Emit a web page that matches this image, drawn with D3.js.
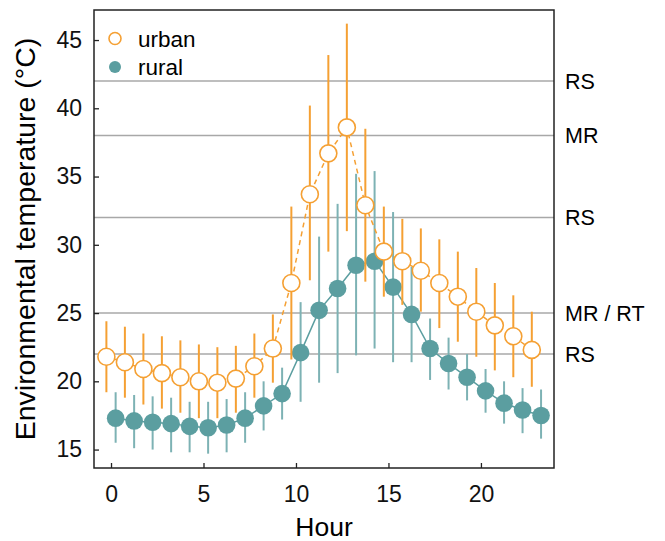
<!DOCTYPE html>
<meta charset='utf-8'>
<body style='margin:0'>
<script src='https://d3js.org/d3.v7.min.js'></script>
<script>
  // hourly means with error bars
  const hours = d3.range(0, 24);
  const urbanMean = [21.8, 21.4, 20.9, 20.6, 20.3, 20.0, 19.9, 20.2, 21.1, 22.4, 27.2, 33.7,
                     36.7, 38.6, 32.9, 29.5, 28.8, 28.1, 27.2, 26.2, 25.1, 24.1, 23.3, 22.3];
  const urbanHi = [24.4, 24.0, 23.5, 23.3, 23.0, 22.7, 22.5, 22.6, 23.5, 24.9, 32.8, 40.2,
                   43.9, 46.2, 38.5, 32.8, 31.9, 31.2, 30.4, 29.5, 28.3, 27.2, 26.3, 25.1];
  const urbanLo = [19.2, 18.8, 18.3, 18.0, 17.7, 17.3, 17.3, 17.7, 18.8, 19.9, 21.6, 27.4,
                   29.5, 31.0, 27.3, 26.2, 25.6, 25.1, 23.9, 22.9, 21.8, 20.8, 20.3, 19.6];
  const ruralMean = [17.3, 17.1, 17.0, 16.9, 16.7, 16.6, 16.8, 17.3, 18.2, 19.1, 22.1, 25.2,
                     26.8, 28.5, 28.8, 26.9, 24.9, 22.4, 21.3, 20.3, 19.3, 18.4, 17.9, 17.5];
  const ruralHi = [19.2, 19.0, 18.9, 18.8, 18.5, 18.5, 18.7, 19.2, 20.0, 21.0, 25.8, 30.6,
                   33.0, 35.2, 35.4, 32.4, 28.4, 24.6, 23.2, 22.0, 20.9, 20.0, 19.5, 19.4];
  const ruralLo = [15.5, 15.1, 15.0, 14.8, 14.8, 14.7, 14.8, 15.5, 16.4, 17.2, 18.5, 19.9,
                   20.6, 21.9, 22.4, 21.4, 21.4, 20.1, 19.4, 18.6, 17.7, 16.9, 16.2, 15.8];
  const refValues = [42, 38, 32, 25, 22];
  const refLabels = ['RS', 'MR', 'RS', 'MR / RT', 'RS'];
  const xTicks = [0, 5, 10, 15, 20];
  const yTicks = [15, 20, 25, 30, 35, 40, 45];

  const orange = '#f5a033';
  const teal = '#5b9ea0';
  const tealBar = '#7db2b4';
  const font = 'Arial, "Liberation Sans", sans-serif';

  const margin = { top: 10, right: 111, bottom: 73, left: 94 };
  const width = 665 - margin.left - margin.right;
  const height = 541 - margin.top - margin.bottom;

  const x = d3.scaleLinear().domain([-0.92, 23.95]).range([0, width]);
  const y = d3.scaleLinear().domain([13.65, 47.2]).range([height, 0]);

  const svg = d3.select('body').append('svg')
    .attr('width', 665)
    .attr('height', 541)
    .style('font-family', font);

  const g = svg.append('g')
    .attr('transform', `translate(${margin.left},${margin.top})`);

  // reference lines with labels on the right
  g.selectAll('.ref')
    .data(refValues)
    .enter().append('line')
      .attr('x1', 0).attr('x2', width)
      .attr('y1', d => y(d)).attr('y2', d => y(d))
      .attr('stroke', '#a8a8a8')
      .attr('stroke-width', 1.5);

  g.selectAll('.refLabel')
    .data(refValues)
    .enter().append('text')
      .attr('x', width + 11)
      .attr('y', d => y(d))
      .attr('dy', '0.36em')
      .style('font-size', '21.5px')
      .text((d, i) => refLabels[i]);

  const rural = hours.map((h, i) => ({ h: h + 0.25, m: ruralMean[i], lo: ruralLo[i], hi: ruralHi[i] }));
  const urban = hours.map((h, i) => ({ h: h - 0.25, m: urbanMean[i], lo: urbanLo[i], hi: urbanHi[i] }));

  const line = d3.line().x(d => x(d.h)).y(d => y(d.m));

  // rural
  g.selectAll('.rbar').data(rural).enter().append('line')
    .attr('x1', d => x(d.h)).attr('x2', d => x(d.h))
    .attr('y1', d => y(d.lo)).attr('y2', d => y(d.hi))
    .attr('stroke', tealBar).attr('stroke-width', 2);
  g.append('path').datum(rural)
    .attr('d', line).attr('fill', 'none')
    .attr('stroke', teal).attr('stroke-width', 1.5);
  g.selectAll('.rpt').data(rural).enter().append('circle')
    .attr('cx', d => x(d.h)).attr('cy', d => y(d.m))
    .attr('r', 8.8).attr('fill', teal);

  // urban
  g.selectAll('.ubar').data(urban).enter().append('line')
    .attr('x1', d => x(d.h)).attr('x2', d => x(d.h))
    .attr('y1', d => y(d.lo)).attr('y2', d => y(d.hi))
    .attr('stroke', orange).attr('stroke-width', 2);
  g.append('path').datum(urban)
    .attr('d', line).attr('fill', 'none')
    .attr('stroke', orange).attr('stroke-width', 1.5)
    .attr('stroke-dasharray', '5,4');
  g.selectAll('.upt').data(urban).enter().append('circle')
    .attr('cx', d => x(d.h)).attr('cy', d => y(d.m))
    .attr('r', 8.5).attr('fill', '#fff')
    .attr('stroke', orange).attr('stroke-width', 1.6);

  // axes: inward ticks
  const xAxis = g.append('g')
    .attr('transform', `translate(0,${height})`)
    .call(d3.axisBottom(x).tickValues(xTicks).tickSizeInner(-5).tickSizeOuter(0).tickPadding(13));
  const yAxis = g.append('g')
    .call(d3.axisLeft(y).tickValues(yTicks).tickSizeInner(-5).tickSizeOuter(0).tickPadding(12));

  [xAxis, yAxis].forEach(a => {
    a.select('.domain').remove();
    a.selectAll('line').attr('stroke', '#222').attr('stroke-width', 1.3);
    a.selectAll('text')
      .style('font-family', font)
      .style('font-size', '23px')
      .attr('fill', '#111');
  });
  xAxis.selectAll('text').attr('dy', '0.92em');

  // frame
  g.append('rect')
    .attr('width', width).attr('height', height)
    .attr('fill', 'none')
    .attr('stroke', '#222').attr('stroke-width', 1.5);

  // titles
  svg.append('text')
    .attr('x', margin.left + width / 2)
    .attr('y', 536)
    .attr('text-anchor', 'middle')
    .style('font-size', '26.5px')
    .text('Hour');

  svg.append('text')
    .attr('transform', `translate(35,${239}) rotate(-90)`)
    .attr('text-anchor', 'middle')
    .style('font-size', '28.5px')
    .text('Environmental temperature (°C)');

  // legend
  const legend = g.append('g');
  legend.append('circle')
    .attr('cx', 21).attr('cy', 28.5).attr('r', 6)
    .attr('fill', '#fff').attr('stroke', orange).attr('stroke-width', 1.6);
  legend.append('circle')
    .attr('cx', 21).attr('cy', 57).attr('r', 6)
    .attr('fill', teal);
  legend.append('text').attr('x', 44).attr('y', 36.5)
    .style('font-size', '22.5px').text('urban');
  legend.append('text').attr('x', 44).attr('y', 65)
    .style('font-size', '22.5px').text('rural');
</script>
